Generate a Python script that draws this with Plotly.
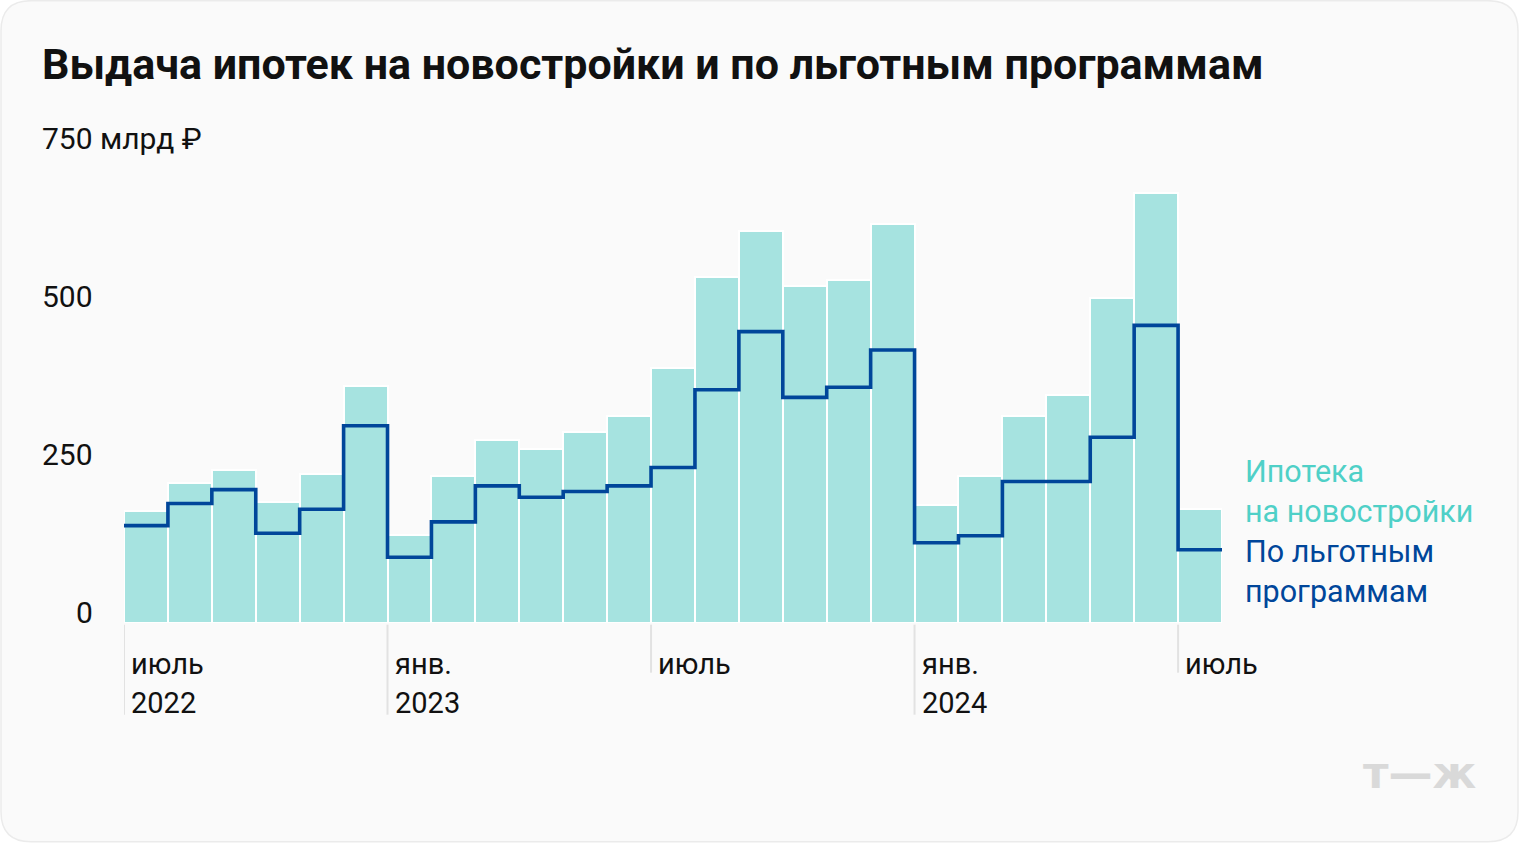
import plotly.graph_objects as go

# ---- data ----
months = ["2022-07", "2022-08", "2022-09", "2022-10", "2022-11", "2022-12",
          "2023-01", "2023-02", "2023-03", "2023-04", "2023-05", "2023-06",
          "2023-07", "2023-08", "2023-09", "2023-10", "2023-11", "2023-12",
          "2024-01", "2024-02", "2024-03", "2024-04", "2024-05", "2024-06",
          "2024-07"]
new_buildings = [178, 222, 242, 191, 235, 375,
                 140, 232, 289, 276, 302, 327,
                 403, 548, 621, 533, 542, 631,
                 187, 232, 327, 361, 514, 681,
                 181]
preferential = [154, 189, 211, 142, 180, 312,
                104, 160, 217, 199, 208, 217,
                246, 369, 461, 357, 373, 432,
                127, 138, 224, 224, 294, 471,
                116]
tick_months = ["2022-07", "2023-01", "2023-07", "2024-01", "2024-07"]
tick_labels = [["июль", "2022"], ["янв.", "2023"], ["июль"], ["янв.", "2024"], ["июль"]]
y_ticks = [0, 250, 500, 750]
y_tick_text = ["0", "250", "500", "750 млрд ₽"]
series_names = [["Ипотека", "на новостройки"], ["По льготным", "программам"]]
title = "Выдача ипотек на новостройки и по льготным программам"

# ---- layout geometry ----
W, H = 1520, 844
L, R = 124, 1222          # plot area left/right in px
T, B = 149.3, 623.3       # plot area top/bottom in px

def px_x(p):
    return (p - L) / (R - L)

def px_y(p):
    return (B - p) / (B - T)

BAR = "#a6e3e0"
LINE = "#00469a"
TEAL = "#4fd0c7"
FONT = "Roboto"

idx = list(range(len(months)))
bar_x = [i + 0.5 for i in idx]
step_x = idx + [len(months)]
step_y = preferential + [preferential[-1]]

fig = go.Figure()
fig.add_trace(go.Bar(x=bar_x, y=new_buildings, width=1,
                     marker=dict(color=BAR, line=dict(color="#ffffff", width=2)),
                     hoverinfo="y", showlegend=False))
fig.add_trace(go.Scatter(x=step_x, y=step_y, mode="lines",
                         line=dict(color=LINE, width=3.6, shape="hv"),
                         hoverinfo="y", showlegend=False))

shapes = []
# card background with rounded corners
r = 30
x0, y0, x1, y1 = 1, 1, W - 2, H - 2
def P(x, y):
    return f"{px_x(x):.5f},{px_y(y):.5f}"
path = (f"M {P(x0 + r, y0)} L {P(x1 - r, y0)} Q {P(x1, y0)} {P(x1, y0 + r)} "
        f"L {P(x1, y1 - r)} Q {P(x1, y1)} {P(x1 - r, y1)} "
        f"L {P(x0 + r, y1)} Q {P(x0, y1)} {P(x0, y1 - r)} "
        f"L {P(x0, y0 + r)} Q {P(x0, y0)} {P(x0 + r, y0)} Z")
shapes.append(dict(type="path", path=path, xref="paper", yref="paper",
                   fillcolor="#fafafa", line=dict(color="#ebebeb", width=1.5),
                   layer="below"))

annotations = []
# x ticks
for m, lab in zip(tick_months, tick_labels):
    xi = months.index(m)
    bottom = 715 if len(lab) > 1 else 673
    shapes.append(dict(type="line", xref="x", yref="paper", x0=xi, x1=xi,
                       y0=px_y(625), y1=px_y(bottom),
                       line=dict(color="#e2e2e2", width=2)))
    for k, t in enumerate(lab):
        annotations.append(dict(x=xi, xref="x", y=px_y(664 + 39.5 * k), yref="paper",
                                text=t, showarrow=False, xanchor="left", yanchor="middle",
                                xshift=5, font=dict(family=FONT, size=29, color="#111111")))
# y ticks
for v, t in zip(y_ticks, y_tick_text):
    if v == y_ticks[-1]:
        annotations.append(dict(x=px_x(40), xref="paper", y=v, yref="y", text=t,
                                showarrow=False, xanchor="left", yanchor="middle", yshift=11,
                                font=dict(family=FONT, size=30, color="#111111")))
    else:
        annotations.append(dict(x=px_x(95), xref="paper", y=v, yref="y", text=t,
                                showarrow=False, xanchor="right", yanchor="middle", yshift=11,
                                font=dict(family=FONT, size=30, color="#111111")))
# legend labels
colors = [TEAL, LINE]
ly = 472
for name, c in zip(series_names, colors):
    for t in name:
        annotations.append(dict(x=px_x(1243), xref="paper", y=px_y(ly), yref="paper",
                                text=t, showarrow=False, xanchor="left", yanchor="middle",
                                font=dict(family=FONT, size=30.5, color=c)))
        ly += 40
# title
annotations.append(dict(x=px_x(40), xref="paper", y=px_y(64), yref="paper",
                        text=f"<b>{title}</b>", showarrow=False, xanchor="left",
                        yanchor="middle", font=dict(family=FONT, size=43, color="#111111")))
# watermark
annotations.append(dict(x=px_x(1479), xref="paper", y=px_y(773), yref="paper",
                        text="<b>т—ж</b>", showarrow=False, xanchor="right",
                        yanchor="middle", font=dict(family="DejaVu Sans", size=44, color="#d9d9d9")))

fig.update_layout(
    width=W, height=H,
    margin=dict(l=L, r=W - R, t=T, b=H - B, pad=0),
    paper_bgcolor="#ffffff", plot_bgcolor="rgba(0,0,0,0)",
    bargap=0,
    xaxis=dict(range=[0, len(months)], showgrid=False, zeroline=False,
               showticklabels=False, ticks="", showline=False, fixedrange=True),
    yaxis=dict(range=[0, 750], showgrid=False, zeroline=False,
               showticklabels=False, ticks="", showline=False, fixedrange=True),
    shapes=shapes, annotations=annotations,
    font=dict(family=FONT),
)

fig.write_html("out.html", config={"displayModeBar": False},
               post_script="document.body.style.margin='0';document.body.style.overflow='hidden';")
